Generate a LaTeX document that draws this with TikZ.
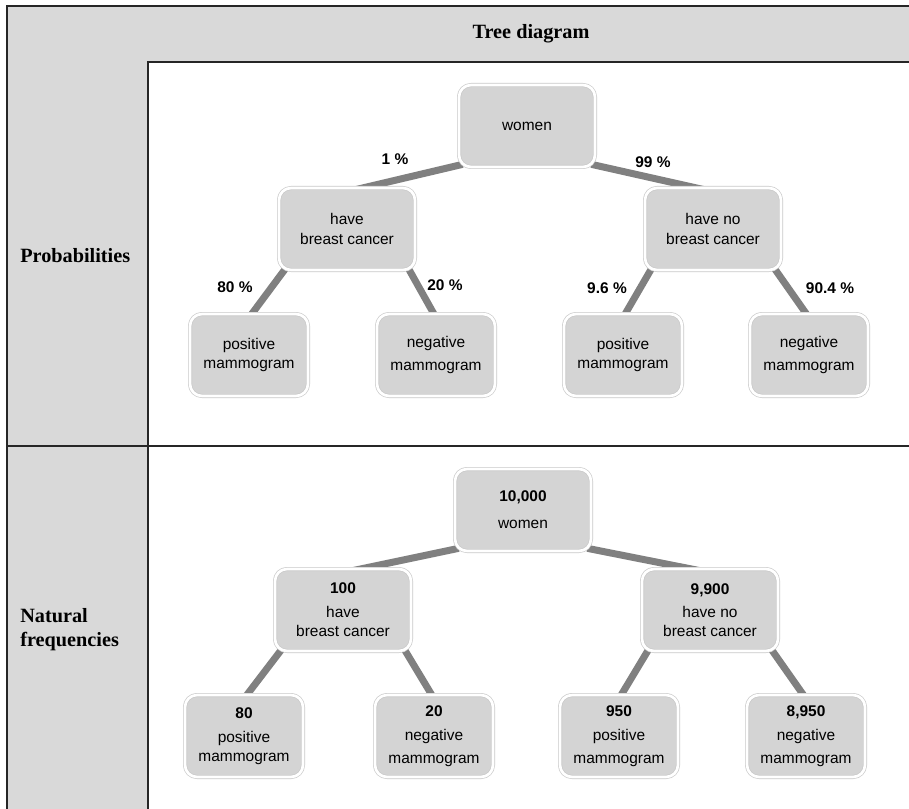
\documentclass[tikz,border=0pt]{standalone}
\usepackage{fontspec}
\setmainfont{Liberation Serif}
\newfontfamily\arial{Liberation Sans}
\usetikzlibrary{calc}
\definecolor{hdrgray}{HTML}{D9D9D9}
\definecolor{boxgray}{HTML}{D4D4D4}
\definecolor{branchgray}{HTML}{808080}
\definecolor{framecol}{HTML}{262626}
\definecolor{boxedge}{HTML}{C8C8C8}
\pgfdeclarelayer{bg}\pgfdeclarelayer{lines}\pgfdeclarelayer{frame}
\pgfsetlayers{bg,lines,main,frame}
\begin{document}
\begin{tikzpicture}[x=0.75pt,y=-0.75pt,
 box/.style={rounded corners=9pt, fill=boxgray, draw=boxedge, double=white, double distance=2pt, line width=0.5pt, align=center, font=\arial\fontsize{11.6}{14.4}\selectfont, inner sep=0pt},
 midbox/.style={box, minimum width=102pt, minimum height=61.5pt},
 leafbox/.style={box, minimum width=88.5pt, minimum height=61.5pt},
 branch/.style={draw=branchgray, line width=5.25pt},
 pct/.style={font=\arial\bfseries\fontsize{11.6}{14}\selectfont, inner sep=0pt},
 hdr/.style={font=\bfseries\fontsize{15.2}{18}\selectfont, inner sep=0pt, align=left},
 rule/.style={draw=framecol, line width=1.5pt}]
\useasboundingbox (0,0) rectangle (909,809);

% background and frame
\begin{pgfonlayer}{bg}
\fill[hdrgray] (7,6) rectangle (909,809);
\fill[white] (148,62) rectangle (909,809);
\end{pgfonlayer}
\begin{pgfonlayer}{frame}
\draw[rule, line join=miter] (7,809) -- (7,6) -- (909,6);
\draw[rule, line join=miter] (909,62) -- (148,62) -- (148,809);
\draw[rule] (7,446) -- (909,446);
\end{pgfonlayer}

% headers
\node[hdr] (title) at (531,34) {Tree diagram};
\node[hdr, anchor=west] (prob) at (20,256) {Probabilities};
\node[hdr, anchor=west] (nat) at (20,630) {Natural\\frequencies};

% probability tree
\node[midbox] (w) at (527,126) {women};
\node[midbox] (hbc) at (347,229) {have\\breast cancer};
\node[midbox] (hnbc) at (713,229) {have no\\breast cancer};
\node[leafbox] (p1) at (249,355) {positive\\mammogram};
\node[leafbox] (n1) at (436,355) {negative\\[3pt]mammogram};
\node[leafbox] (p2) at (623,355) {positive\\mammogram};
\node[leafbox] (n2) at (809,355) {negative\\[3pt]mammogram};

\node[pct] (l1) at (395,159) {1 \%};
\node[pct] (l99) at (653,162) {99 \%};
\node[pct] (l80) at (235,287) {80 \%};
\node[pct] (l20) at (445,285) {20 \%};
\node[pct] (l96) at (607,288) {9.6 \%};
\node[pct] (l904) at (830,288) {90.4 \%};

% natural frequency tree
\node[midbox] (fw) at (523,510) {\textbf{10,000}\\[6pt]women};
\node[midbox] (fhbc) at (343,610) {\textbf{100}\\[3.5pt]have\\breast cancer};
\node[midbox] (fhnbc) at (710,610) {\textbf{9,900}\\[3pt]have no\\breast cancer};
\node[leafbox] (fp1) at (244,736) {\textbf{80}\\[3.5pt]positive\\mammogram};
\node[leafbox] (fn1) at (434,736) {\textbf{20}\\[3.5pt]negative\\[3pt]mammogram};
\node[leafbox] (fp2) at (619,736) {\textbf{950}\\[3.5pt]positive\\[3pt]mammogram};
\node[leafbox] (fn2) at (806,736) {\textbf{8,950}\\[3.5pt]negative\\[3pt]mammogram};

% branches
\begin{pgfonlayer}{lines}
\draw[branch] ([shift={(4,-3)}]w.south west) -- ([shift={(0,4)}]hbc.north);
\draw[branch] ([shift={(-4,-3)}]w.south east) -- ([shift={(0,4)}]hnbc.north);
\draw[branch] ([shift={(7,-2)}]hbc.south west) -- ([shift={(0,4)}]p1.north);
\draw[branch] ([shift={(-7,-2)}]hbc.south east) -- ([shift={(0,4)}]n1.north);
\draw[branch] ([shift={(7,-2)}]hnbc.south west) -- ([shift={(0,4)}]p2.north);
\draw[branch] ([shift={(-7,-2)}]hnbc.south east) -- ([shift={(0,4)}]n2.north);

\draw[branch] ([shift={(4,-3)}]fw.south west) -- ([shift={(0,4)}]fhbc.north);
\draw[branch] ([shift={(-4,-3)}]fw.south east) -- ([shift={(0,4)}]fhnbc.north);
\draw[branch] ([shift={(7,-2)}]fhbc.south west) -- ([shift={(0,4)}]fp1.north);
\draw[branch] ([shift={(-7,-2)}]fhbc.south east) -- ([shift={(0,4)}]fn1.north);
\draw[branch] ([shift={(7,-2)}]fhnbc.south west) -- ([shift={(0,4)}]fp2.north);
\draw[branch] ([shift={(-7,-2)}]fhnbc.south east) -- ([shift={(0,4)}]fn2.north);
\end{pgfonlayer}
\end{tikzpicture}
\end{document}
